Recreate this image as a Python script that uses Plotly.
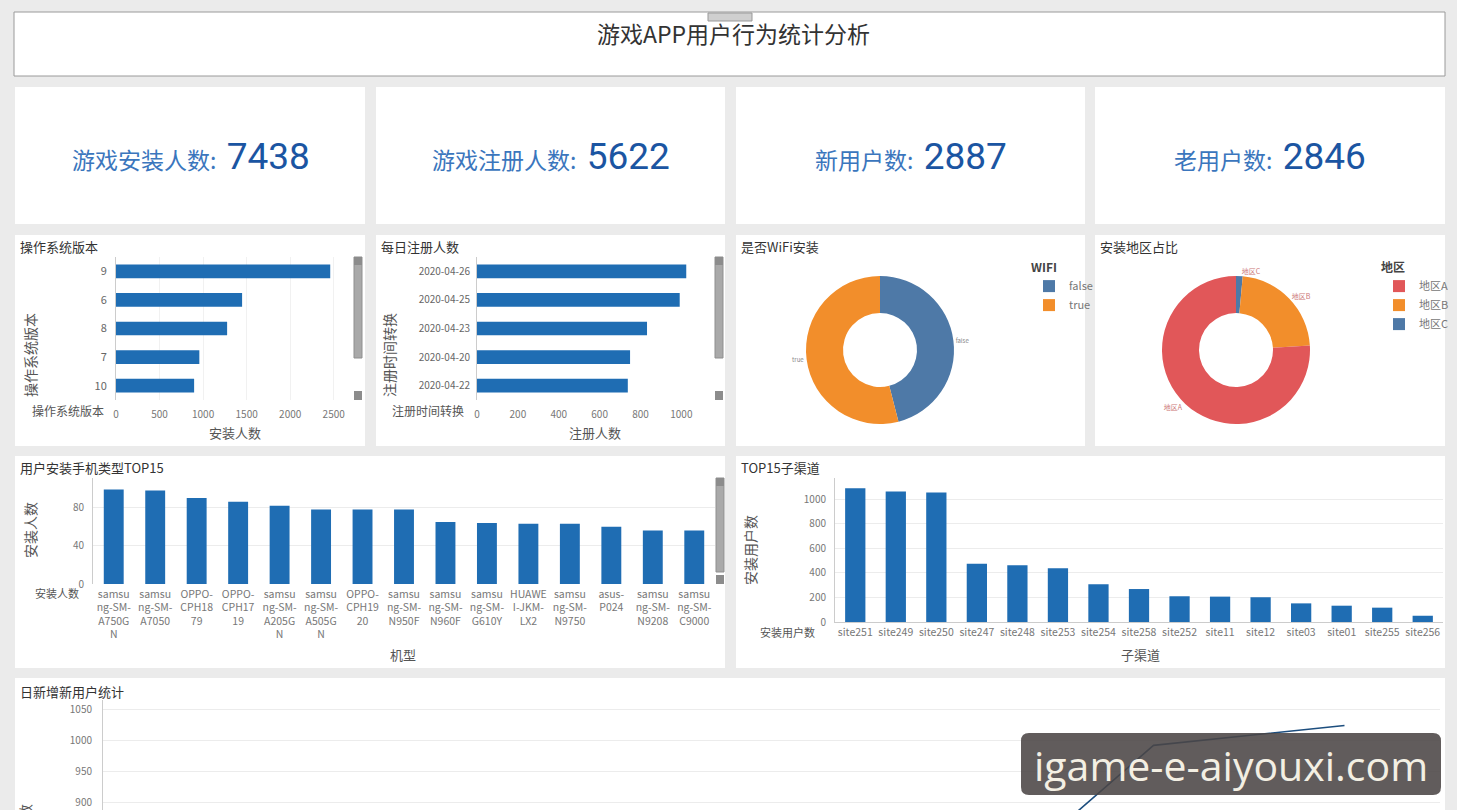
import plotly.graph_objects as go

W, H = 1457, 810

# ---------------- data ----------------
page_title = "游戏APP用户行为统计分析"
kpi_labels = ["游戏安装人数:", "游戏注册人数:", "新用户数:", "老用户数:"]
kpi_values = [7438, 5622, 2887, 2846]

os_versions = ["9", "6", "8", "7", "10"]
os_installs = [2460, 1448, 1276, 957, 897]

reg_dates = ["2020-04-26", "2020-04-25", "2020-04-23", "2020-04-20", "2020-04-22"]
reg_counts = [1024, 992, 832, 749, 738]

wifi_labels = ["false", "true"]
wifi_values = [3420, 4018]

region_labels = ["地区A", "地区B", "地区C"]
region_values = [5650, 1680, 108]

phone_models = ["samsung-SM-A750GN", "samsung-SM-A7050", "OPPO-CPH1879", "OPPO-CPH1719",
                "samsung-SM-A205GN", "samsung-SM-A505GN", "OPPO-CPH1920", "samsung-SM-N950F",
                "samsung-SM-N960F", "samsung-SM-G610Y", "HUAWEI-JKM-LX2", "samsung-SM-N9750",
                "asus-P024", "samsung-SM-N9208", "samsung-SM-C9000"]
phone_tick_labels = ["samsu<br>ng-SM-<br>A750G<br>N", "samsu<br>ng-SM-<br>A7050", "OPPO-<br>CPH18<br>79",
                     "OPPO-<br>CPH17<br>19", "samsu<br>ng-SM-<br>A205G<br>N", "samsu<br>ng-SM-<br>A505G<br>N",
                     "OPPO-<br>CPH19<br>20", "samsu<br>ng-SM-<br>N950F", "samsu<br>ng-SM-<br>N960F",
                     "samsu<br>ng-SM-<br>G610Y", "HUAWE<br>I-JKM-<br>LX2", "samsu<br>ng-SM-<br>N9750",
                     "asus-<br>P024", "samsu<br>ng-SM-<br>N9208", "samsu<br>ng-SM-<br>C9000"]
phone_installs = [99, 98, 90, 86, 82, 78, 78, 78, 65, 64, 63, 63, 60, 56, 56]

channels = ["site251", "site249", "site250", "site247", "site248", "site253", "site254", "site258",
            "site252", "site11", "site12", "site03", "site01", "site255", "site256"]
channel_users = [1091, 1064, 1056, 476, 463, 438, 308, 269, 210, 207, 202, 152, 133, 117, 51]

daily_dates = ["2020-04-20", "2020-04-21", "2020-04-22", "2020-04-23", "2020-04-24", "2020-04-25", "2020-04-26"]
daily_new_users = [749, 562, 738, 832, 725, 992, 1024]

os_ticks = [0, 500, 1000, 1500, 2000, 2500]
reg_ticks = [0, 200, 400, 600, 800, 1000]
phone_ticks = [0, 40, 80]
channel_ticks = [0, 200, 400, 600, 800, 1000]
daily_ticks = [900, 950, 1000, 1050]

# ---------------- style ----------------
BLUE = "#1f6db3"
FONT = "Noto Sans CJK SC, Open Sans, sans-serif"
TICK = dict(size=10, color="#777", family=FONT)
GRID = "#ececec"
AXLINE = "#cccccc"
REGION_COLORS = {"地区A": "#e15759", "地区B": "#f28e2b", "地区C": "#4e79a7"}


def fx(x):
    return x / W


def fy(y):
    return 1 - y / H


def dx(a, b):
    return [a / W, b / W]


def dy(top, bottom):
    return [1 - bottom / H, 1 - top / H]


fig = go.Figure()

fig.add_trace(go.Bar(x=os_installs, y=os_versions, orientation="h", marker_color=BLUE, width=0.48,
                     xaxis="x", yaxis="y", showlegend=False))
fig.add_trace(go.Bar(x=reg_counts, y=reg_dates, orientation="h", marker_color=BLUE, width=0.48,
                     xaxis="x2", yaxis="y2", showlegend=False))
fig.add_trace(go.Pie(labels=wifi_labels, values=wifi_values, hole=0.5, sort=False, direction="clockwise",
                     marker=dict(colors=["#4e79a7", "#f28e2b"]), textinfo="label", textposition="outside",
                     textfont=dict(size=6, color="#888"), domain=dict(x=dx(806, 954), y=dy(276, 424)),
                     legend="legend", showlegend=True))
# region slices drawn clockwise from 12 o'clock in reverse order (C, B, A); legend reversed back to A, B, C
reg_lab_rev = region_labels[::-1]
reg_val_rev = region_values[::-1]
fig.add_trace(go.Pie(labels=reg_lab_rev, values=reg_val_rev, hole=0.5, sort=False,
                     direction="clockwise",
                     marker=dict(colors=[REGION_COLORS[l] for l in reg_lab_rev]), textinfo="label",
                     textposition="outside", textfont=dict(size=7, color="#c77"),
                     domain=dict(x=dx(1162, 1310), y=dy(276, 424)), legend="legend2", showlegend=True))
fig.add_trace(go.Bar(x=phone_models, y=phone_installs, marker_color=BLUE, width=0.48,
                     xaxis="x5", yaxis="y5", showlegend=False))
fig.add_trace(go.Bar(x=channels, y=channel_users, marker_color=BLUE, width=0.5,
                     xaxis="x6", yaxis="y6", showlegend=False))
fig.add_trace(go.Scatter(x=daily_dates, y=daily_new_users, mode="lines", line=dict(color="#1d4e7e", width=1.6),
                         xaxis="x7", yaxis="y7", showlegend=False))

# ---------------- panels ----------------
shapes = []
panels = [(15, 87, 365, 224), (376, 87, 725, 224), (736, 87, 1085, 224), (1095, 87, 1445, 224),
          (15, 235, 365, 446), (376, 235, 725, 446), (736, 235, 1085, 446), (1095, 235, 1445, 446),
          (15, 456, 725, 668), (736, 456, 1445, 668), (15, 678, 1445, 840)]
for (x0, y0, x1, y1) in panels:
    shapes.append(dict(type="rect", xref="paper", yref="paper", x0=fx(x0), x1=fx(x1), y0=fy(y1), y1=fy(y0),
                       fillcolor="white", line=dict(width=0), layer="below"))
shapes.append(dict(type="rect", xref="paper", yref="paper", x0=fx(14), x1=fx(1445), y0=fy(76), y1=fy(12),
                   fillcolor="white", line=dict(width=1, color="#9a9a9a"), layer="below"))
shapes.append(dict(type="rect", xref="paper", yref="paper", x0=fx(708), x1=fx(752), y0=fy(21), y1=fy(13),
                   fillcolor="#cfcfcf", line=dict(width=1, color="#999"), layer="above"))

# scrollbars
for (sx0, sx1, t0, t1, b0, b1) in [(354, 362, 257, 358, 391, 400), (715, 723, 257, 358, 391, 400),
                                    (716, 724, 478, 572, 575, 584)]:
    shapes.append(dict(type="rect", xref="paper", yref="paper", x0=fx(sx0), x1=fx(sx1), y0=fy(t1), y1=fy(t0),
                       fillcolor="#a9a9a9", line=dict(width=1, color="#8f8f8f"), layer="above"))
    shapes.append(dict(type="rect", xref="paper", yref="paper", x0=fx(sx0), x1=fx(sx1), y0=fy(t0 + 8), y1=fy(t0),
                       fillcolor="#8c8c8c", line=dict(width=0), layer="above"))
    shapes.append(dict(type="rect", xref="paper", yref="paper", x0=fx(sx0), x1=fx(sx1), y0=fy(b1), y1=fy(b0),
                       fillcolor="#8c8c8c", line=dict(width=0), layer="above"))

# watermark box (rounded)
wx0, wy0, wx1, wy1, r = 1021, 733, 1441, 795, 8
rx, ry = r / W, r / H
X0, X1, Y0, Y1 = fx(wx0), fx(wx1), fy(wy1), fy(wy0)
path = (f"M {X0+rx},{Y0} L {X1-rx},{Y0} Q {X1},{Y0} {X1},{Y0+ry} L {X1},{Y1-ry} Q {X1},{Y1} {X1-rx},{Y1} "
        f"L {X0+rx},{Y1} Q {X0},{Y1} {X0},{Y1-ry} L {X0},{Y0+ry} Q {X0},{Y0} {X0+rx},{Y0} Z")
shapes.append(dict(type="path", xref="paper", yref="paper", path=path, fillcolor="rgba(75,70,70,0.88)",
                   line=dict(width=0), layer="above"))

# ---------------- annotations ----------------
ann = []


def add_text(text, x, y, size=13, color="#333", xanchor="center", yanchor="middle", angle=0, family=FONT):
    ann.append(dict(text=text, x=fx(x), y=fy(y), xref="paper", yref="paper", showarrow=False,
                    xanchor=xanchor, yanchor=yanchor, textangle=angle,
                    font=dict(size=size, color=color, family=family)))


add_text(page_title, 733, 33, size=23, color="#333")

kpi_centers = [191, 551, 911, 1270]
for lab, val, cx in zip(kpi_labels, kpi_values, kpi_centers):
    txt = (f"<span style='font-size:23px;color:#3b76bd'>{lab}  </span>"
           f"<span style='font-size:37px;color:#1b55a2;font-family:Roboto'>{val}</span>")
    add_text(txt, cx, 156, size=23, color="#3b76bd")

# panel titles
add_text("操作系统版本", 18, 246, xanchor="left")
add_text("每日注册人数", 379, 246, xanchor="left")
add_text("是否WiFi安装", 739, 246, xanchor="left")
add_text("安装地区占比", 1098, 247, xanchor="left")
add_text("用户安装手机类型TOP15", 18, 468, xanchor="left")
add_text("TOP15子渠道", 739, 468, xanchor="left")
add_text("日新增新用户统计", 18, 691, xanchor="left")

# axis titles
AX = "#555"
add_text("操作系统版本", 30, 355, size=14, color=AX, angle=-90)
add_text("操作系统版本", 68, 410, size=12, color=AX)
add_text("安装人数", 235, 432, size=13, color=AX)
add_text("注册时间转换", 389, 355, size=14, color=AX, angle=-90)
add_text("注册时间转换", 428, 410, size=12, color=AX)
add_text("注册人数", 595, 432, size=13, color=AX)
add_text("安装人数", 30, 530, size=14, color=AX, angle=-90)
add_text("安装人数", 57, 593, size=11, color=AX)
add_text("机型", 403, 654, size=13, color=AX)
add_text("安装用户数", 750, 550, size=14, color=AX, angle=-90)
add_text("安装用户数", 787, 632, size=11, color=AX)
add_text("子渠道", 1140, 654, size=13, color=AX)
add_text("新用户数", 25, 832, size=14, color=AX, angle=-90)

# watermark text
add_text("igame-e-aiyouxi.com", 1231, 765, size=41, color="#f3efe3", family="Open Sans")

# ---------------- layout ----------------
fig.update_layout(
    width=W, height=H, margin=dict(l=0, r=0, t=0, b=0), autosize=False,
    paper_bgcolor="#ebebeb", plot_bgcolor="rgba(0,0,0,0)", template="none",
    font=dict(family=FONT, size=11, color="#555"),
    shapes=shapes, annotations=ann, bargap=0.5,
    xaxis=dict(domain=dx(116, 352), anchor="y", range=[0, 2710], tickvals=os_ticks, showgrid=True,
               gridcolor="#f1f1f1", zeroline=False, showline=False, ticks="", tickfont=TICK,
               ticklabelstandoff=7),
    yaxis=dict(domain=dy(257, 400), anchor="x", type="category", categoryorder="array",
               categoryarray=os_versions, autorange="reversed", showline=True, linecolor=AXLINE,
               showgrid=False, zeroline=False, ticks="", tickfont=dict(size=11, color="#666"),
               ticklabelstandoff=6),
    xaxis2=dict(domain=dx(477, 712), anchor="y2", range=[0, 1150], tickvals=reg_ticks, showgrid=False,
                zeroline=False, showline=False, ticks="", tickfont=TICK, ticklabelstandoff=7),
    yaxis2=dict(domain=dy(257, 400), anchor="x2", type="category", categoryorder="array",
                categoryarray=reg_dates, autorange="reversed", showline=True, linecolor=AXLINE,
                showgrid=False, zeroline=False, ticks="", tickfont=dict(size=10, color="#666"),
                ticklabelstandoff=4),
    xaxis5=dict(domain=dx(93, 715), anchor="y5", type="category", tickvals=phone_models,
                ticktext=phone_tick_labels, tickangle=0, showgrid=False, zeroline=False, showline=False,
                ticks="", tickfont=dict(size=10.5, color="#777"), ticklabelstandoff=2),
    yaxis5=dict(domain=dy(478, 584), anchor="x5", range=[0, 111], tickvals=phone_ticks, showgrid=True,
                gridcolor=GRID, zeroline=False, showline=True, linecolor=AXLINE, ticks="", tickfont=TICK,
                ticklabelstandoff=6),
    xaxis6=dict(domain=dx(835, 1443), anchor="y6", type="category", showgrid=False, zeroline=False,
                showline=True, linecolor=AXLINE, ticks="", tickfont=dict(size=10.5, color="#777")),
    yaxis6=dict(domain=dy(478, 622), anchor="x6", range=[0, 1175], tickvals=channel_ticks, showgrid=True,
                gridcolor=GRID, zeroline=False, showline=True, linecolor=AXLINE, ticks="", tickfont=TICK,
                ticklabelstandoff=6),
    xaxis7=dict(domain=dx(103, 1440), anchor="y7", type="category", range=[-0.5, 6.5], showgrid=False,
                zeroline=False, showline=False, ticks="", showticklabels=False),
    yaxis7=dict(domain=dy(700, 810), anchor="x7", range=[888, 1065], tickvals=daily_ticks, showgrid=True,
                gridcolor=GRID, zeroline=False, showline=True, linecolor=AXLINE, ticks="", tickfont=TICK,
                ticklabelstandoff=8),
    legend=dict(x=fx(1029), y=fy(256), xanchor="left", yanchor="top", bgcolor="rgba(0,0,0,0)",
                title=dict(text="<b>WIFI</b>", font=dict(size=12, color="#444")),
                font=dict(size=11, color="#777"), itemclick=False),
    legend2=dict(x=fx(1379), y=fy(256), xanchor="left", yanchor="top", bgcolor="rgba(0,0,0,0)",
                 traceorder="reversed",
                 title=dict(text="<b>地区</b>", font=dict(size=12, color="#444")),
                 font=dict(size=11, color="#777"), itemclick=False),
)

fig.write_html("out.html")
